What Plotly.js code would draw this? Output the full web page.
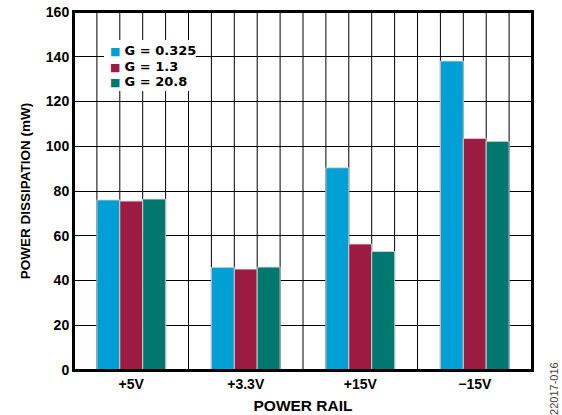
<!DOCTYPE html>
<html>
<head>
<meta charset="utf-8">
<script src="https://cdn.plot.ly/plotly-3.0.1.min.js"></script>
<style>html,body{margin:0;padding:0;background:#fff;}#chart{width:562px;height:415px;}</style>
</head>
<body>
<div id="chart"></div>
<script>
const categories = ["+5V", "+3.3V", "+15V", "\u221215V"];
const seriesNames = ["G = 0.325", "G = 1.3", "G = 20.8"];
const g0325 = [76.0, 45.9, 90.4, 138.1];
const g13 = [75.5, 45.1, 56.3, 103.5];
const g208 = [76.4, 46.0, 53.0, 102.2];
const colors = ["#009fd6", "#9b1b42", "#00776f"];
const yTicks = [0, 20, 40, 60, 80, 100, 120, 140, 160];

const fam = "Liberation Sans, Arial, sans-serif";
const b = (s) => "<b>" + s + "</b>";
const catIndex = categories.map((c, i) => i);
const values = [g0325, g13, g208];
const traces = values.map((v, i) => ({
  type: "bar", name: seriesNames[i], x: catIndex, y: v,
  marker: {color: colors[i], line: {color: "rgba(215,215,215,0.9)", width: 1}},
  hoverinfo: "none",
  showlegend: false
}));

// vertical grid: five columns per category (styling, drawn on the x axis scale)
const colsPerCat = 5;
const gridShapes = [];
for (let k = 1; k < categories.length * colsPerCat; k++) {
  const xv = -0.5 + k / colsPerCat;
  gridShapes.push({type: "line", xref: "x", yref: "paper", x0: xv, x1: xv, y0: 0, y1: 1,
    layer: "below", line: {color: "#000", width: 1}});
}

const legendRowsY = [0.892, 0.847, 0.805];
const legendAnn = seriesNames.map((n, i) => ({
  xref: "paper", yref: "paper", x: 0.0755, y: legendRowsY[i],
  xanchor: "left", yanchor: "middle", showarrow: false,
  text: '<span style="color:' + colors[i] + ';font-size:11px">\u25A0</span> <b>' + n + '</b>',
  font: {family: "DejaVu Sans, sans-serif", size: 13, color: "#000"},
  borderpad: 0
}));

const layout = {
  width: 562, height: 415,
  margin: {l: 74, r: 30, t: 12, b: 45},
  font: {family: fam, size: 14, color: "#000"},
  barmode: "group", bargap: 0.4, bargroupgap: 0, showlegend: false,
  xaxis: {
    type: "linear", range: [-0.5, categories.length - 0.5],
    tickmode: "array", tickvals: catIndex, ticktext: categories.map(b),
    tickfont: {family: fam, size: 14, color: "#000"},
    showgrid: false, zeroline: false, automargin: false,
    showline: true, linecolor: "#000", linewidth: 2, mirror: true,
    title: {text: b("POWER RAIL"), font: {family: fam, size: 15.5, color: "#000"}, standoff: 9}
  },
  yaxis: {
    range: [0, 160],
    tickmode: "array", tickvals: yTicks, ticktext: yTicks.map(t => b(String(t))),
    tickfont: {family: fam, size: 14, color: "#000"},
    showgrid: true, gridcolor: "#000", gridwidth: 1, zeroline: false, automargin: false,
    showline: true, linecolor: "#000", linewidth: 2, mirror: true,
    title: {text: b("POWER DISSIPATION (mW)"), font: {family: fam, size: 13.5, color: "#000"}, standoff: 12}
  },
  shapes: gridShapes.concat([
    {type: "rect", xref: "paper", yref: "paper", layer: "above",
     x0: 0.0655, x1: 0.266, y0: 0.779, y1: 0.922,
     fillcolor: "#fff", line: {width: 0}},
    {type: "rect", xref: "paper", yref: "paper", layer: "above",
     x0: 0, x1: 1, y0: 0, y1: 1,
     fillcolor: "rgba(0,0,0,0)", line: {color: "#000", width: 2}}
  ]),
  annotations: legendAnn.concat([{
    text: "22017-016", xref: "paper", yref: "paper",
    x: 1.048, y: -0.05, xanchor: "center", yanchor: "middle",
    textangle: -90, showarrow: false,
    font: {family: fam, size: 11, color: "#444"}
  }])
};

Plotly.newPlot("chart", traces, layout, {displayModeBar: false}).then(gd => {
  gd.style.opacity = "0.9999";
});
</script>
</body>
</html>
